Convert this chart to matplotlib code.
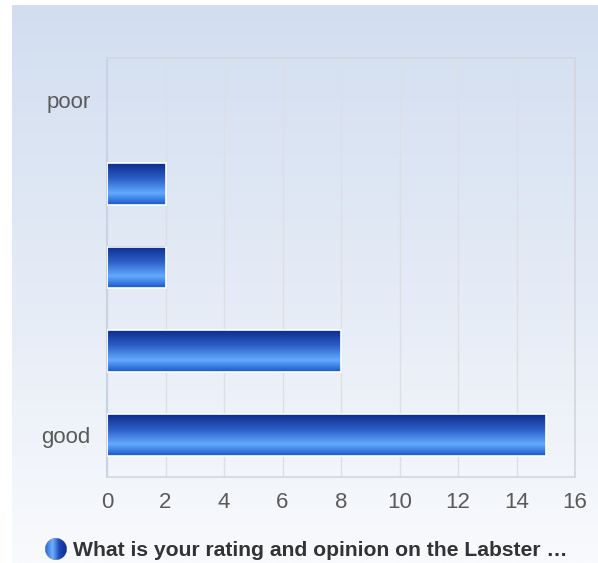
import matplotlib.pyplot as plt
import numpy as np
from matplotlib.colors import LinearSegmentedColormap

categories = ["good", "", "", "", "poor"]
values = [15, 8, 2, 2, 0]
xticks = [0, 2, 4, 6, 8, 10, 12, 14, 16]
title = "What is your rating and opinion on the Labster \u2026"

plt.rcParams["font.family"] = ["Liberation Sans", "DejaVu Sans"]

W, H = 598, 563
fig = plt.figure(figsize=(W / 100, H / 100), dpi=100)
fig.patch.set_facecolor("white")

# panel background gradient
bg = fig.add_axes([12 / W, 0, 1 - 12 / W, 1 - 5 / H])
bg_cmap = LinearSegmentedColormap.from_list("bg", ["#d2def0", "#e4ebf6", "#f9fafd"])
bg.imshow(np.linspace(0, 1, 256).reshape(-1, 1), aspect="auto", cmap=bg_cmap,
          extent=(0, 1, 0, 1), origin="upper")
bg.axis("off")

ax = fig.add_axes([107 / W, 1 - 477 / H, 468 / W, 419 / H])
ax.patch.set_alpha(0)

y = np.arange(len(categories))
bars = ax.barh(y, values, height=0.5, color="none", edgecolor="white", linewidth=1.2, zorder=3)

bar_cmap = LinearSegmentedColormap.from_list(
    "bar", [(0, "#0d2d8c"), (0.35, "#2a5cc4"), (0.72, "#62aaff"), (1, "#1a58c8")])
grad = np.linspace(0, 1, 64).reshape(-1, 1)
for b in bars:
    if b.get_width() <= 0:
        b.set_visible(False)
        continue
    x0, y0 = b.get_x(), b.get_y()
    ax.imshow(grad, aspect="auto", cmap=bar_cmap, origin="upper",
              extent=(x0, x0 + b.get_width(), y0, y0 + b.get_height()), zorder=2)

ax.set_xlim(0, 16)
ax.set_ylim(-0.5, len(categories) - 0.5)
ax.set_xticks(xticks)
ax.set_yticks(y)
ax.set_yticklabels(categories)
ax.grid(axis="x", color="#dcdfe4", linewidth=1, zorder=0)
ax.set_axisbelow(True)
for side in ["top", "right", "bottom"]:
    ax.spines[side].set_color("#d4d6da")
    ax.spines[side].set_linewidth(1.2)
ax.spines["left"].set_color("#c9d3e6")
ax.spines["left"].set_linewidth(1.5)
ax.tick_params(axis="both", length=0, colors="#5a5a5a", labelsize=16)
ax.tick_params(axis="x", pad=11)
ax.tick_params(axis="y", pad=12)

# legend-like title with sphere marker
fig.text(73 / W, 1 - 550 / H, title, fontsize=15.2, fontweight="bold",
         color="#333333", va="center", ha="left")
ic = fig.add_axes([45 / W, 1 - 560 / H, 22 / W, 22 / H])
ball_cmap = LinearSegmentedColormap.from_list("ball", ["#2a6ad8", "#6fb0ff", "#1a48b8", "#0d2d8c"])
xx, yy = np.meshgrid(np.linspace(-1, 1, 64), np.linspace(-1, 1, 64))
img = np.ma.masked_where(xx ** 2 + yy ** 2 > 1, (xx + 1) / 2)
ic.imshow(img, cmap=ball_cmap, extent=(-1, 1, -1, 1))
ic.axis("off")

fig.savefig("out.png", dpi=100)
